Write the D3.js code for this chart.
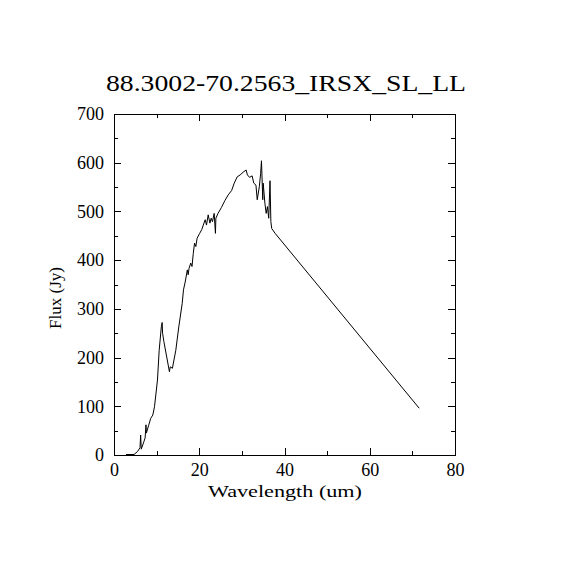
<!DOCTYPE html>
<html>
<head>
<meta charset="utf-8">
<script src="https://cdn.jsdelivr.net/npm/d3@7"></script>
<style>
  body { margin: 0; background: #fff; }
  text { font-family: "Liberation Serif", "DejaVu Serif", serif; fill: #000; }
</style>
</head>
<body>
<script>
// spectrum
var wavelength = [2.8, 4.7, 5.5, 6.1, 6.25, 6.4, 7.0, 7.3, 7.5, 7.6, 8.1, 8.6, 9.1, 9.5, 10.2, 10.6, 11.1, 11.3, 11.4, 11.7,
  12.5, 13.0, 13.2, 13.7, 14.5, 15.2, 16.0, 16.3, 16.7, 17.2, 17.4, 17.6, 18.0, 18.3, 18.6, 18.9, 19.2, 19.5, 20.1, 20.6,
  21.1, 21.4, 21.7, 22.1, 22.5, 22.8, 23.1, 23.5, 23.8, 23.9, 24.4, 25.2, 26.0, 26.8, 27.6, 28.2, 28.9, 29.6, 30.5, 31.0,
  31.3, 31.8, 32.4, 32.8, 33.3, 33.6, 34.1, 34.4, 34.6, 34.9, 35.0, 35.4, 35.7, 36.0, 36.3, 36.6, 36.8, 37.0, 37.8, 71.6];
var flux = [1, 1, 7, 15, 41, 12, 27, 35, 62, 45, 60, 75, 82, 99, 154, 215, 263, 272, 250, 233,
  195, 171, 181, 178, 215, 263, 311, 339, 355, 380, 370, 383, 394, 387, 414, 435, 428, 445, 455, 463,
  476, 483, 472, 493, 476, 486, 479, 496, 455, 486, 496, 508, 522, 534, 543, 558, 571, 575, 582, 585,
  575, 570, 573, 558, 554, 524, 551, 578, 604, 524, 558, 517, 496, 510, 486, 563, 479, 465, 455, 96];

var xMajor = [0, 20, 40, 60, 80];
var xMinor = [10, 30, 50, 70];
var yMajor = [0, 100, 200, 300, 400, 500, 600, 700];
var yMinor = [50, 150, 250, 350, 450, 550, 650];

var titleText = "88.3002-70.2563_IRSX_SL_LL";
var xLabel = "Wavelength (um)";
var yLabel = "Flux (Jy)";

var svg = d3.select("body").append("svg")
    .attr("width", 570)
    .attr("height", 570);

svg.append("rect").attr("width", 570).attr("height", 570).attr("fill", "#fff");

var x = d3.scaleLinear().domain([0, 80]).range([114, 455]);
var y = d3.scaleLinear().domain([0, 700]).range([455, 114]);

// axes with inward ticks on all four sides
function styleAxis(g) {
  g.select(".domain").remove();
  g.selectAll("line").attr("stroke", "#000").attr("stroke-width", 1).attr("shape-rendering", "crispEdges");
  g.selectAll("text").style("font-size", "18px").attr("fill", "#000");
}

svg.append("g").attr("transform", "translate(0,455)")
   .call(d3.axisBottom(x).tickValues(xMajor).tickSize(-7).tickPadding(8).tickFormat(d3.format("d")))
   .call(styleAxis);
svg.append("g").attr("transform", "translate(0,455)")
   .call(d3.axisBottom(x).tickValues(xMinor).tickSize(-4).tickFormat(""))
   .call(styleAxis);
svg.append("g").attr("transform", "translate(0,114)")
   .call(d3.axisTop(x).tickValues(xMajor).tickSize(-7).tickFormat(""))
   .call(styleAxis);
svg.append("g").attr("transform", "translate(0,114)")
   .call(d3.axisTop(x).tickValues(xMinor).tickSize(-4).tickFormat(""))
   .call(styleAxis);

svg.append("g").attr("transform", "translate(114,0)")
   .call(d3.axisLeft(y).tickValues(yMajor).tickSize(-7).tickPadding(10).tickFormat(d3.format("d")))
   .call(styleAxis);
svg.append("g").attr("transform", "translate(114,0)")
   .call(d3.axisLeft(y).tickValues(yMinor).tickSize(-4).tickFormat(""))
   .call(styleAxis);
svg.append("g").attr("transform", "translate(455,0)")
   .call(d3.axisRight(y).tickValues(yMajor).tickSize(-7).tickFormat(""))
   .call(styleAxis);
svg.append("g").attr("transform", "translate(455,0)")
   .call(d3.axisRight(y).tickValues(yMinor).tickSize(-4).tickFormat(""))
   .call(styleAxis);

// plot box
svg.append("rect")
   .attr("x", x(0)).attr("y", y(700))
   .attr("width", x(80) - x(0)).attr("height", y(0) - y(700))
   .attr("fill", "none").attr("stroke", "#000").attr("stroke-width", 1)
   .attr("shape-rendering", "crispEdges");

// spectrum
var pts = wavelength.map(function(w, i) { return [w, flux[i]]; });
var line = d3.line()
    .x(function(d) { return x(d[0]); })
    .y(function(d) { return y(d[1]); });

svg.append("path")
   .datum(pts)
   .attr("fill", "none")
   .attr("stroke", "#000")
   .attr("stroke-width", 1)
   .attr("d", line);

// title and axis labels
svg.append("text")
   .attr("x", 286).attr("y", 91)
   .attr("text-anchor", "middle")
   .attr("textLength", 360).attr("lengthAdjust", "spacingAndGlyphs")
   .style("font-size", "24px")
   .text(titleText);

svg.append("text")
   .attr("x", 285).attr("y", 497)
   .attr("text-anchor", "middle")
   .attr("textLength", 154).attr("lengthAdjust", "spacingAndGlyphs")
   .style("font-size", "17px")
   .text(xLabel);

svg.append("text")
   .attr("transform", "translate(61,298) rotate(-90)")
   .attr("text-anchor", "middle")
   .attr("textLength", 62).attr("lengthAdjust", "spacingAndGlyphs")
   .style("font-size", "17px")
   .text(yLabel);
</script>
</body>
</html>
